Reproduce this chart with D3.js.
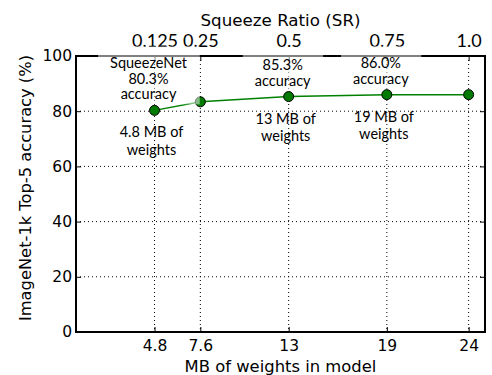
<!DOCTYPE html>
<html>
<head>
<meta charset="utf-8">
<script src="https://cdn.jsdelivr.net/npm/d3@7"></script>
<style>
  body { margin: 0; background: #fff; }
  svg { display: block; }
</style>
</head>
<body>
<div id="chart"></div>
<script>
// model size (MB) on the bottom axis, squeeze ratio on the top axis
const sizesMB = [4.8, 7.6, 13, 19, 24];
const squeezeRatios = ['0.125', '0.25', '0.5', '0.75', '1.0'];
const top5Accuracy = [80.3, 83.4, 85.3, 86.0, 86.0];
const yTicks = [0, 20, 40, 60, 80, 100];

// text above / below each point (null = no note)
const upperNotes = [['SqueezeNet', '80.3%', 'accuracy'], null, ['85.3%', 'accuracy'], ['86.0%', 'accuracy'], null];
const lowerNotes = [['4.8 MB of', 'weights'], null, ['13 MB of', 'weights'], ['19 MB of', 'weights'], null];

const W = 492, H = 375;
const margin = { top: 56, right: 7, bottom: 43, left: 76 };
const width = W - margin.left - margin.right;
const height = H - margin.top - margin.bottom;

const svg = d3.select('#chart').append('svg')
  .attr('width', W)
  .attr('height', H);

const g = svg.append('g')
  .attr('transform', `translate(${margin.left},${margin.top})`);

const x = d3.scaleLinear().domain([0, 25]).range([0, width]);
const y = d3.scaleLinear().domain([0, 100]).range([height, 0]);

const mono = 'DejaVu Sans, sans-serif';
const humanist = 'Lato, Open Sans, sans-serif';

// grid
g.append('g').selectAll('line').data(sizesMB).join('line')
  .attr('x1', d => x(d)).attr('x2', d => x(d))
  .attr('y1', 0).attr('y2', height)
  .attr('stroke', '#000').attr('stroke-width', 1)
  .attr('stroke-dasharray', '1,3');

g.append('g').selectAll('line').data(yTicks.filter(d => d > 0 && d < 100)).join('line')
  .attr('x1', 0).attr('x2', width)
  .attr('y1', d => y(d)).attr('y2', d => y(d))
  .attr('stroke', '#000').attr('stroke-width', 1)
  .attr('stroke-dasharray', '1,3');

// axes (ticks pointing inward)
const xAxis = g.append('g')
  .attr('transform', `translate(0,${height})`)
  .call(d3.axisBottom(x).tickValues(sizesMB).tickFormat(d3.format('')).tickSizeInner(-5).tickSizeOuter(0).tickPadding(8));

const xTop = g.append('g')
  .call(d3.axisTop(x).tickValues(sizesMB).tickFormat((d, i) => squeezeRatios[i]).tickSizeInner(-5).tickSizeOuter(0).tickPadding(9));

const yAxis = g.append('g')
  .call(d3.axisLeft(y).tickValues(yTicks).tickSizeInner(-5).tickSizeOuter(0).tickPadding(4));

const yRight = g.append('g')
  .attr('transform', `translate(${width},0)`)
  .call(d3.axisRight(y).tickValues(yTicks.filter(d => d > 0 && d < 100)).tickSizeInner(-5).tickSizeOuter(0).tickFormat(''));

[xAxis, xTop, yAxis, yRight].forEach(a => {
  a.select('.domain').remove();
  a.selectAll('line').attr('stroke', '#000').attr('stroke-width', 1);
});
[xAxis, yAxis].forEach(a => a.selectAll('text').style('font-family', mono).style('font-size', '15.5px').attr('fill', '#000'));
xTop.selectAll('text').style('font-family', humanist).style('font-size', '18px').attr('fill', '#000');

// frame
g.append('rect')
  .attr('width', width).attr('height', height)
  .attr('fill', 'none').attr('stroke', '#000').attr('stroke-width', 2);

// axis titles
svg.append('text')
  .attr('x', margin.left + width / 2).attr('y', 371.5)
  .attr('text-anchor', 'middle')
  .style('font-family', mono).style('font-size', '16.4px')
  .text('MB of weights in model');

svg.append('text')
  .attr('transform', `translate(31,188) rotate(-90)`)
  .attr('text-anchor', 'middle')
  .style('font-family', mono).style('font-size', '16.3px')
  .text('ImageNet-1k Top-5 accuracy (%)');

svg.append('text')
  .attr('x', margin.left + width / 2).attr('y', 26)
  .attr('text-anchor', 'middle')
  .style('font-family', mono).style('font-size', '16.7px')
  .text('Squeeze Ratio (SR)');

// line + markers
const pts = sizesMB.map((s, i) => ({ s, a: top5Accuracy[i], i }));

g.append('path')
  .datum(pts)
  .attr('fill', 'none')
  .attr('stroke', '#008000')
  .attr('stroke-width', 1.5)
  .attr('d', d3.line().x(d => x(d.s)).y(d => y(d.a)));

g.selectAll('circle.pt').data(pts).join('circle')
  .attr('class', 'pt')
  .attr('cx', d => x(d.s)).attr('cy', d => y(d.a))
  .attr('r', 5)
  .attr('fill', '#007a00')
  .attr('stroke', '#000').attr('stroke-width', 1);

// annotations
const lineH = 15.5;
const noteLayer = g.append('g');
pts.forEach(p => {
  const up = upperNotes[p.i];
  if (up) {
    const grp = noteLayer.append('g');
    const t = grp.append('text')
      .attr('text-anchor', 'middle')
      .style('font-family', humanist).style('font-size', '14.5px');
    up.forEach((txt, k) => {
      t.append('tspan')
        .attr('x', x(p.s) - 6)
        .attr('y', y(p.a) - 11 - (up.length - 1 - k) * lineH)
        .text(txt);
    });
    const bb = t.node().getBBox();
    grp.insert('rect', 'text')
      .attr('x', bb.x - 12).attr('y', bb.y - 8)
      .attr('width', bb.width + 24).attr('height', bb.height + 10)
      .attr('fill', '#fff').attr('fill-opacity', 0.5);
  }
  const low = lowerNotes[p.i];
  if (low) {
    const t = noteLayer.append('text')
      .attr('text-anchor', 'middle')
      .style('font-family', humanist).style('font-size', '14.5px');
    low.forEach((txt, k) => {
      t.append('tspan')
        .attr('x', x(p.s) - 3)
        .attr('y', y(p.a) + 27 + k * lineH + k * 2)
        .text(txt);
    });
  }
});
</script>
</body>
</html>
